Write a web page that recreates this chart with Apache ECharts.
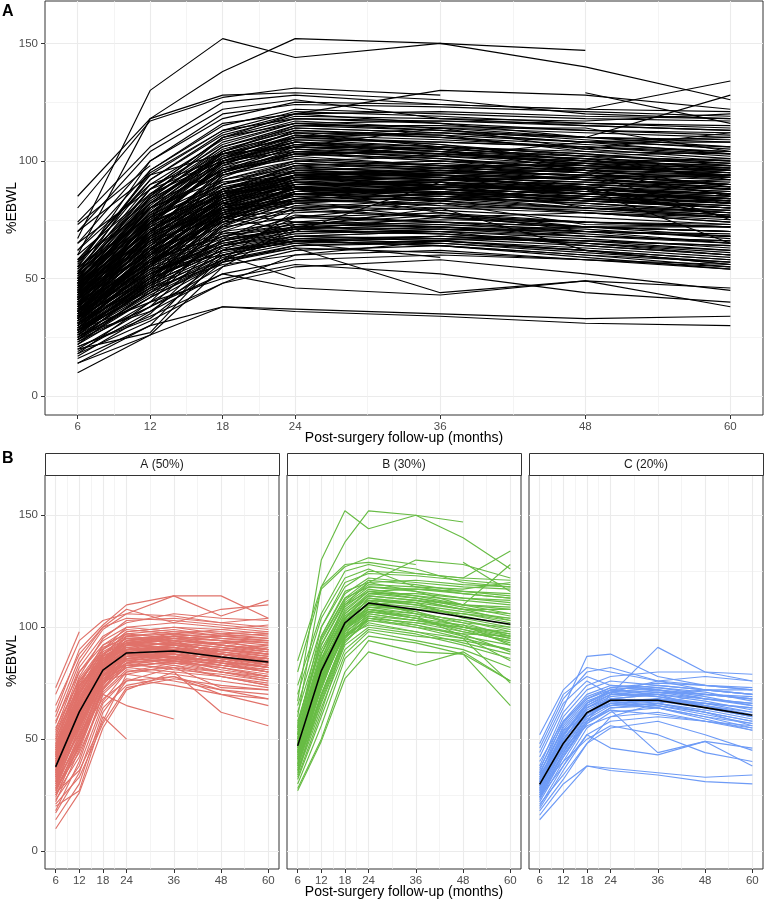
<!DOCTYPE html>
<html>
<head>
<meta charset="utf-8">
<script src="https://cdn.jsdelivr.net/npm/echarts@6/dist/echarts.min.js"></script>
<style>
  html, body { margin: 0; padding: 0; background: #fff; }
  #main { width: 765px; height: 900px; }
</style>
</head>
<body>
<div id="main"></div>
<script>
// follow-up visits (months)
const months = [6, 12, 18, 24, 36, 48, 60];
const xMajor = [6, 12, 18, 24, 36, 48, 60];
const xMinor = [9, 15, 21, 30, 42, 54];
const yMajor = [0, 50, 100, 150];
const yMinor = [25, 75, 125];
const clusterNames = ['A (50%)', 'B (30%)', 'C (20%)'];
const clusterColors = ['#E0726A', '#68BC45', '#6E9BF6'];

// %EBWL per patient, at the months above (null = no visit)
const clusterA = [
  [10, 26, 55, 72, 80, 78, 74], [14, 30, 62, 76, 82, 80, 77], [17, 35, 64, 74, 78, 72, 70],
  [18, 40, 70, 80, 84, 83, 80], [20, 27, 60, 50, null, null, null], [22, 45, 72, 83, 86, 85, 82],
  [23, 38, 66, 77, 74, 70, 68], [24, 48, 74, 86, 88, 84, 80], [25, 42, 70, 65, 59, null, null],
  [26, 50, 76, 84, 90, 88, 86], [27, 46, 73, 82, 85, 80, 76], [28, 52, 78, 88, 92, 90, 88],
  [29, 55, 77, 86, 85, 82, 78], [30, 50, 75, 90, 94, 92, 90], [31, 58, 80, 90, 88, 86, 83],
  [32, 54, 78, 85, 83, 78, 74], [33, 60, 82, 92, 95, 94, 92], [34, 56, 79, 88, 90, 86, 84],
  [35, 62, 83, 93, 96, 92, 90], [35, 58, 75, 82, 80, 62, 56], [36, 64, 84, 96, 98, 98, 96],
  [37, 60, 80, 86, 84, 80, 78], [38, 66, 86, 94, 92, 90, 88], [38, 62, 82, 90, 91, 88, 85],
  [39, 57, 76, 79, 76, 72, 68], [40, 68, 87, 98, 100, 97, 95], [41, 64, 80, 87, 90, 86, 82],
  [42, 70, 88, 95, 94, 92, 90], [42, 63, 78, 84, 86, 90, 92], [43, 72, 90, 100, 102, 100, 98],
  [44, 66, 82, 88, 85, 82, 78], [45, 74, 92, 99, 97, 95, 94], [46, 68, 84, 92, 96, 94, 90],
  [47, 76, 90, 96, 94, 88, 86], [48, 70, 86, 91, 88, 84, 80], [49, 78, 95, 103, 104, 102, 100],
  [50, 72, 88, 94, 92, 90, 88], [51, 80, 94, 100, 98, 96, 95], [52, 74, 85, 90, 91, 86, 84],
  [54, 82, 96, 102, 106, 104, 103], [55, 76, 88, 93, 90, 88, 86], [57, 84, 99, 106, 105, 102, 104],
  [58, 80, 92, 97, 95, 92, 90], [60, 86, 100, 104, 103, 101, 99], [62, 90, 101, 110, 114, 105, 112],
  [65, 88, 100, 108, 102, 108, 110], [70, 94, 103, 106, 114, 114, 104], [73, 98, null, null, null, null, null],
  [36, 52, 68, 76, 78, 70, 65], [28, 44, 67, 80, 82, 78, 75], [44, 60, 76, 83, 82, 73, 72],
  [31, 48, 72, 87, 89, 87, 83], [40, 56, 74, 86, 87, 83, 80], [26, 36, 58, 79, 83, 80, 77],
  [46, 70, 87, 93, 89, 85, 82], [21, 33, 57, 73, 77, 74, 72], [53, 77, 91, 95, 96, 94, 93],
  [37, 55, 81, 91, 93, 89, 86], [34, 60, 80, 88, null, 85, 82], [33, 62, 85, 94, 97, 99, 101],
  [30, 55, 78, 89, 91, 89, 87], [33, 58, 82, 92, 93, 91, 88], [36, 61, 84, 94, 95, 92, 89],
  [39, 63, 81, 90, 92, 90, 87], [41, 66, 83, 91, 89, 88, 86], [43, 65, 80, 86, 88, 86, 85],
  [45, 69, 85, 93, 94, 93, 91], [47, 71, 86, 90, 90, 87, 84], [29, 51, 76, 87, 88, 86, 84],
  [32, 57, 79, 85, 87, 85, 82], [34, 59, 81, 88, 86, 83, 80], [37, 63, 83, 92, 91, 87, 83],
  [39, 65, 85, 96, 97, 95, 93], [40, 61, 79, 83, 84, 82, 79], [42, 67, 84, 89, 87, 84, 81],
  [44, 71, 88, 97, 99, 96, 94], [46, 73, 89, 95, 93, 91, 89], [25, 47, 73, 84, 86, 83, 81],
  [27, 49, 75, 86, 89, 88, 86], [35, 60, 82, 90, 90, 88, 85], [31, 53, 77, 84, 81, 79, 76],
  [48, 74, 87, 92, 95, 96, 97], [50, 75, 90, 98, 100, 99, 97], [38, 59, 78, 87, 88, 84, 82],
  [36, 57, 77, 82, 85, 84, 83], [41, 62, 84, 93, 92, 88, 84], [43, 68, 86, 94, 96, 97, 98],
  [28, 47, 71, 81, 79, 76, 73], [45, 67, 83, 89, 86, 81, 78], [33, 56, 80, 90, 92, 93, 94]
];
const clusterB = [
  [67, 130, 152, 144, 150, 147, null], [60, 118, 138, 152, 150, 140, 126], [85, 118, 128, 129, 126, 120, 118],
  [80, 117, 127, 131, 128, null, null], [74, 106, 125, 128, 124, 122, 134], [70, 104, 122, 126, 118, 117, 120],
  [65, 100, 118, 125, 124, 122, 121], [62, 96, 115, 122, 120, 118, 117], [58, 92, 112, 120, 121, 119, 118],
  [56, 95, 113, 118, 116, 113, 112], [54, 88, 110, 118, 117, 115, 113], [52, 86, 108, 116, 114, 112, 110],
  [50, 84, 106, 114, 112, 108, 106], [49, 82, 104, 112, 110, 107, 104], [48, 80, 103, 110, 108, 106, 103],
  [47, 78, 101, 113, 111, 104, 100], [46, 82, 102, 108, 106, 103, 98], [45, 76, 100, 111, 107, 100, 97],
  [44, 80, 99, 106, 103, 100, 96], [43, 74, 98, 110, 112, 108, 108], [42, 78, 96, 104, 102, 98, 94],
  [41, 72, 100, 108, 104, 99, 95], [40, 70, 95, 105, 103, 101, 92], [39, 76, 97, 103, 100, 95, 90],
  [38, 68, 94, 102, 98, 93, 88], [37, 74, 99, 107, 105, 96, 85], [36, 66, 92, 100, 97, 92, 86],
  [35, 64, 90, 99, 96, 94, 90], [34, 70, 96, 101, 98, 95, 75], [32, 60, 88, 98, 94, 90, 82],
  [30, 56, 86, 96, 93, 88, 76], [28, 50, 80, 94, 89, 88, 65], [27, 49, 77, 89, 83, 89, 76],
  [null, null, null, null, null, 129, 116], [52, 96, 116, 120, 116, 110, 128], [44, 85, 110, 120, 130, 128, 122],
  [55, 100, 120, 124, 123, 121, 119], [41, 76, 104, 115, 115, 113, 111], [33, 62, 94, 103, 101, 97, 96],
  [50, 88, 110, 116, 113, 110, 108],
  [46, 80, 102, 111, 109, 106, 102], [48, 84, 105, 113, 110, 105, 101], [44, 77, 100, 109, 106, 103, 99],
  [51, 86, 106, 115, 113, 109, 105], [42, 74, 97, 107, 104, 101, 97], [53, 90, 109, 117, 114, 110, 106],
  [47, 82, 103, 110, 107, 102, 96], [49, 79, 101, 109, 108, 106, 104], [39, 70, 96, 106, 103, 99, 93],
  [55, 92, 111, 119, 118, 115, 113], [45, 81, 104, 114, 112, 110, 109], [43, 75, 98, 105, 101, 96, 92],
  [50, 85, 104, 112, 106, 100, 95], [36, 67, 93, 104, 102, 100, 98], [57, 94, 113, 121, 119, 116, 114],
  [41, 73, 99, 108, 105, 102, 100], [46, 78, 100, 107, 104, 98, 94], [52, 88, 107, 116, 117, 116, 115],
  [38, 69, 95, 104, 100, 97, 89], [48, 83, 103, 112, 111, 108, 103]
];
const clusterC = [
  [14, 26, 38, 36, 34, 31, 30], [16, 30, 38, 37, 35, 33, 34], [18, 32, 48, 55, 58, 52, 45],
  [19, 36, 52, 58, 60, 58, 54], [20, 38, 55, 62, 64, 60, 57], [22, 40, 57, 63, 44, 49, 46],
  [23, 42, 58, 64, 66, 62, 58], [24, 44, 60, 66, 68, 66, 64], [25, 46, 56, 60, 62, 58, 55],
  [26, 48, 62, 68, 70, 68, 66], [27, 50, 64, 70, 69, 66, 62], [28, 45, 58, 70, 72, 70, 68],
  [29, 52, 66, 72, 74, 72, 70], [30, 54, 60, 66, 64, 60, 55], [31, 48, 62, 65, 68, 65, 60],
  [32, 56, 68, 73, 75, 74, 72], [33, 52, 64, 68, 66, 62, 56], [34, 58, 70, 74, 73, 70, 68],
  [35, 54, 66, 71, 76, 78, 76], [36, 60, 72, 76, 74, 72, 70], [38, 62, 74, 78, 80, 80, 79],
  [40, 58, 68, 72, 70, 64, 60], [42, 64, 87, 88, 78, 74, 72], [44, 66, 76, 70, 91, 80, 76],
  [46, 68, 80, 82, 76, 72, 70], [48, 70, 78, 74, 72, 68, 65], [52, 72, 82, 80, 76, 74, 73],
  [28, 40, 50, 56, 52, 44, 40], [24, 38, 52, 46, 43, 49, 38], [21, 34, 48, 60, 66, 70, 68],
  [29, 47, 61, 67, 68, 65, 62], [31, 50, 63, 68, 67, 64, 60], [27, 46, 60, 66, 67, 66, 64],
  [33, 53, 65, 70, 70, 67, 63], [26, 44, 59, 65, 66, 63, 59], [30, 49, 64, 69, 71, 70, 69],
  [35, 55, 67, 71, 69, 65, 61], [28, 48, 62, 67, 65, 61, 57], [32, 51, 66, 72, 71, 68, 66],
  [24, 42, 57, 64, 65, 62, 58], [37, 57, 69, 73, 72, 69, 65], [29, 46, 60, 68, 70, 72, 72],
  [34, 50, 62, 66, 64, 59, 54], [25, 43, 58, 63, 61, 58, 56], [31, 52, 65, 71, 73, 71, 67]
];
// cluster mean trajectories
const meanA = [37.6, 62.2, 80.8, 88.5, 89.4, 86.7, 84.5];
const meanB = [47, 80.5, 101.9, 110.8, 107.9, 104.6, 101.3];
const meanC = [29.8, 48.1, 61.8, 67.4, 67.4, 64.1, 60.7];

const FONT = '"Liberation Sans", Arial, sans-serif';
const X_MIN = 3.3, X_MAX = 62.7, Y_MIN = -8, Y_MAX = 168;

const grids = [], xAxes = [], yAxes = [], series = [];

function toPoints(row) {
  return months.map((m, i) => [m, row[i]]).filter(p => p[1] !== null);
}

// one panel = grid + minor/major axes, returns indexes of the major axes
function addPanel(rect, showY) {
  const g = grids.length;
  grids.push({
    left: rect.left, top: rect.top, width: rect.width, height: rect.height,
    show: true, borderColor: '#333333', borderWidth: 1, backgroundColor: '#fff'
  });
  xAxes.push({
    gridIndex: g, type: 'value', min: X_MIN, max: X_MAX, position: 'top',
    axisLine: { show: false, onZero: false },
    axisTick: { show: false, customValues: xMinor },
    axisLabel: { show: false, customValues: xMinor },
    splitLine: { show: true, lineStyle: { color: '#EFEFEF', width: 0.7 } }
  });
  const xi = xAxes.length;
  xAxes.push({
    gridIndex: g, type: 'value', min: X_MIN, max: X_MAX, position: 'bottom',
    axisLine: { show: false, onZero: false },
    axisTick: { show: true, length: 4, customValues: xMajor, lineStyle: { color: '#333333' } },
    axisLabel: { customValues: xMajor, margin: 6, fontSize: 11.5, color: '#4D4D4D', fontFamily: FONT },
    splitLine: { show: true, lineStyle: { color: '#EBEBEB', width: 1.1 } }
  });
  yAxes.push({
    gridIndex: g, type: 'value', min: Y_MIN, max: Y_MAX, position: 'right',
    axisLine: { show: false, onZero: false },
    axisTick: { show: false, customValues: yMinor },
    axisLabel: { show: false, customValues: yMinor },
    splitLine: { show: true, lineStyle: { color: '#EFEFEF', width: 0.7 } }
  });
  const yi = yAxes.length;
  yAxes.push({
    gridIndex: g, type: 'value', min: Y_MIN, max: Y_MAX, position: 'left',
    axisLine: { show: false, onZero: false },
    axisTick: { show: showY, length: 4, customValues: yMajor, lineStyle: { color: '#333333' } },
    axisLabel: { show: showY, customValues: yMajor, margin: 7, fontSize: 11.5, color: '#4D4D4D', fontFamily: FONT },
    splitLine: { show: true, lineStyle: { color: '#EBEBEB', width: 1.1 } }
  });
  return { xi, yi };
}

function addLines(rows, color, width, ax, z) {
  rows.forEach(r => {
    series.push({
      type: 'line', xAxisIndex: ax.xi, yAxisIndex: ax.yi, data: toPoints(r),
      symbol: 'none', showSymbol: false, silent: true, z: z,
      lineStyle: { color: color, width: width }
    });
  });
}

// panel A: everyone in black
const topAx = addPanel({ left: 45, top: 1, width: 718, height: 414 }, true);
addLines(clusterA.concat(clusterB, clusterC), '#000000', 1.15, topAx, 2);

// panel B: one facet per cluster
const clusters = [clusterA, clusterB, clusterC];
const means = [meanA, meanB, meanC];
const facetLeft = [45, 287, 529];
const FACET_W = 234, FACET_TOP = 475, FACET_H = 394, STRIP_H = 22;
const graphics = [];
clusters.forEach((rows, k) => {
  const ax = addPanel({ left: facetLeft[k], top: FACET_TOP, width: FACET_W, height: FACET_H }, k === 0);
  addLines(rows, clusterColors[k], 1.15, ax, 2);
  addLines([means[k]], '#000000', 1.6, ax, 5);
  graphics.push({
    type: 'rect', z: 100, shape: { x: facetLeft[k] + 0.5, y: FACET_TOP - STRIP_H + 0.5, width: FACET_W, height: STRIP_H },
    style: { fill: '#ffffff', stroke: '#333333', lineWidth: 1 }
  });
  graphics.push({
    type: 'text', z: 101, x: facetLeft[k] + FACET_W / 2, y: FACET_TOP - STRIP_H / 2 + 1,
    style: { text: clusterNames[k], font: '12px ' + FONT, fill: '#1A1A1A', textAlign: 'center', textVerticalAlign: 'middle' }
  });
});

// panel letters and axis titles
graphics.push(
  { type: 'text', x: 2, y: 4, style: { text: 'A', font: 'bold 16px ' + FONT, fill: '#000' } },
  { type: 'text', x: 2, y: 451, style: { text: 'B', font: 'bold 16px ' + FONT, fill: '#000' } },
  { type: 'text', x: 404, y: 438, style: { text: 'Post-surgery follow-up (months)', font: '14px ' + FONT, fill: '#000', textAlign: 'center', textVerticalAlign: 'middle' } },
  { type: 'text', x: 404, y: 892, style: { text: 'Post-surgery follow-up (months)', font: '14px ' + FONT, fill: '#000', textAlign: 'center', textVerticalAlign: 'middle' } },
  { type: 'text', x: 12, y: 208, rotation: Math.PI / 2, style: { text: '%EBWL', font: '14px ' + FONT, fill: '#000', textAlign: 'center', textVerticalAlign: 'middle' } },
  { type: 'text', x: 12, y: 661, rotation: Math.PI / 2, style: { text: '%EBWL', font: '14px ' + FONT, fill: '#000', textAlign: 'center', textVerticalAlign: 'middle' } }
);

const chart = echarts.init(document.getElementById('main'), null, { renderer: 'canvas' });
chart.setOption({
  animation: false,
  backgroundColor: '#ffffff',
  grid: grids,
  xAxis: xAxes,
  yAxis: yAxes,
  series: series,
  graphic: graphics
});
</script>
</body>
</html>
